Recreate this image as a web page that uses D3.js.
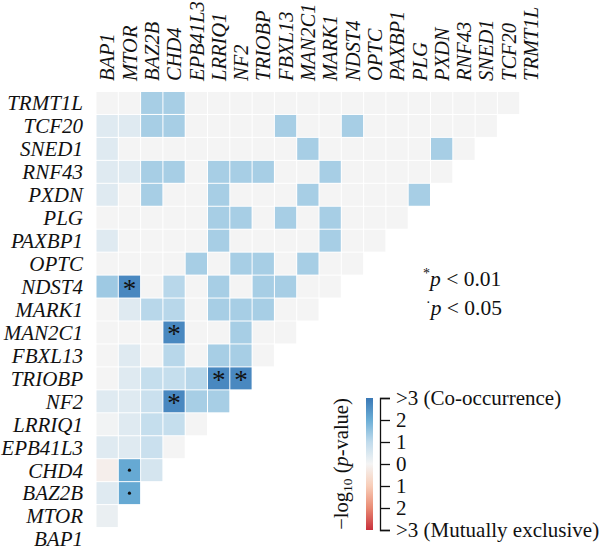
<!DOCTYPE html>
<html>
<head>
<meta charset="utf-8">
<script src="https://cdn.jsdelivr.net/npm/d3@7"></script>
<style>
  body { margin: 0; background: #fff; }
  text { font-family: "Liberation Serif", "Times New Roman", serif; fill: #111; }
</style>
</head>
<body>
<svg></svg>
<script>
// genes in column order (left to right); rows run the other way
const genes = ["BAP1", "MTOR", "BAZ2B", "CHD4", "EPB41L3", "LRRIQ1", "NF2", "TRIOBP",
  "FBXL13", "MAN2C1", "MARK1", "NDST4", "OPTC", "PAXBP1", "PLG", "PXDN",
  "RNF43", "SNED1", "TCF20", "TRMT1L"];

// -log10(p), signed (+ co-occurrence, - mutual exclusivity), row gene vs genes before it
const scores = [
  [],                                                                   // BAP1
  [0.2],                                                                // MTOR
  [0.4, 2.1],                                                           // BAZ2B
  [-0.15, 2.1, 0.6],                                                    // CHD4
  [0.4, 0.4, 0.8, 0],                                                   // EPB41L3
  [0.05, 0.4, 0.9, 0.9, 0],                                             // LRRIQ1
  [0.4, 0.4, 0.8, 2.7, 1.3, 1.3],                                       // NF2
  [0, 0.4, 0.9, 0.9, 1.1, 2.7, 2.7],                                    // TRIOBP
  [0, 0.4, 0, 1.1, 0, 1.3, 1.3, 0],                                     // FBXL13
  [0, 0, 0, 2.7, 0, 0, 1.3, 0, 0],                                      // MAN2C1
  [0, 0.4, 1.1, 1.1, 0, 1.3, 1.3, 1.3, 0, 0],                           // MARK1
  [1.4, 2.7, 0, 1.1, 0, 1.3, 0, 1.3, 1.3, 0, 0],                        // NDST4
  [0, 0, 0, 0, 1.3, 0, 1.3, 1.3, 0, 1.3, 0, 0],                         // OPTC
  [0.4, 0, 0, 0, 0, 1.3, 0, 0, 0, 0, 1.3, 0, 0],                        // PAXBP1
  [0, 0, 0, 0, 0, 1.3, 1.3, 0, 1.3, 0, 1.3, 0, 0, 0],                   // PLG
  [0.4, 0, 1.3, 0, 0, 1.3, 0, 0, 0, 1.3, 0, 0, 0, 0, 1.3],              // PXDN
  [0.4, 0.4, 1.3, 1.3, 0, 1.3, 1.3, 1.3, 0, 0, 1.3, 0, 0, 0, 0, 0],     // RNF43
  [0.4, 0, 0, 0, 0, 0, 0, 0, 0, 1.3, 0, 0, 0, 0, 0, 1.3, 0],            // SNED1
  [0.4, 0.4, 1.3, 1.3, 0, 0, 0, 0, 1.3, 0, 0, 1.3, 0, 0, 0, 0, 0, 0],   // TCF20
  [0, 0, 1.3, 1.3, 0, 0, 0, 0, 0, 0, 0, 0, 0, 0, 0, 0, 0, 0, 0]         // TRMT1L
];

// significance marks: [row gene, column gene, mark]
const marks = [
  ["NDST4", "MTOR", "*"], ["MAN2C1", "CHD4", "*"], ["TRIOBP", "LRRIQ1", "*"],
  ["TRIOBP", "NF2", "*"], ["NF2", "CHD4", "*"], ["CHD4", "MTOR", "."], ["BAZ2B", "MTOR", "."]
];

const legendTicks = [3, 2, 1, 0, -1, -2, -3];
const legendLabels = [">3 (Co-occurrence)", "2", "1", "0", "1", "2", ">3 (Mutually exclusive)"];

const width = 600, height = 553;
const svg = d3.select('svg').attr('width', width).attr('height', height);

const cellW = 22.3, cellH = 22.95;
const x = d3.scaleBand().domain(genes).range([96, 96 + genes.length * cellW]);
const y = d3.scaleBand().domain(genes.slice().reverse()).range([91.5, 91.5 + genes.length * cellH]);

const color = d3.scaleLinear()
  .domain([-3, -2, -1, 0, 1, 2, 3])
  .range(["#c8303c", "#e98b74", "#f8cdb8", "#f4f4f4", "#c0dbec", "#6baed6", "#3a78b6"])
  .clamp(true);

// flatten the lower triangle
const cells = [];
scores.forEach((row, i) => row.forEach((v, j) => cells.push({ r: genes[i], c: genes[j], v })));

svg.append('g').selectAll('rect').data(cells)
  .enter().append('rect')
    .attr('x', d => x(d.c) + 0.5)
    .attr('y', d => y(d.r) + 0.5)
    .attr('width', x.bandwidth() - 1)
    .attr('height', y.bandwidth() - 1)
    .attr('fill', d => color(d.v));

// significance marks
svg.append('g').selectAll('text').data(marks.filter(m => m[2] === '*'))
  .enter().append('text')
    .attr('x', d => x(d[1]) + x.bandwidth() / 2)
    .attr('y', d => y(d[0]) + y.bandwidth() / 2 + 11)
    .attr('text-anchor', 'middle')
    .attr('font-size', 27)
    .text('*');
svg.append('g').selectAll('circle').data(marks.filter(m => m[2] === '.'))
  .enter().append('circle')
    .attr('cx', d => x(d[1]) + x.bandwidth() / 2)
    .attr('cy', d => y(d[0]) + y.bandwidth() / 2)
    .attr('r', 1.6)
    .attr('fill', '#111');

// row labels
svg.append('g').selectAll('text').data(genes)
  .enter().append('text')
    .attr('x', 83)
    .attr('y', d => y(d) + y.bandwidth() / 2)
    .attr('dy', '0.35em')
    .attr('text-anchor', 'end')
    .attr('font-style', 'italic')
    .attr('font-size', 21)
    .text(d => d);

// column labels
svg.append('g').selectAll('text').data(genes)
  .enter().append('text')
    .attr('transform', d => `translate(${x(d) + x.bandwidth() / 2},81) rotate(-90)`)
    .attr('dy', '0.35em')
    .attr('font-style', 'italic')
    .attr('font-size', 20.5)
    .text(d => d);

// p-value notes
const note = svg.append('g').attr('font-size', 21.5);
const n1 = note.append('text').attr('x', 423).attr('y', 286);
n1.append('tspan').attr('font-size', 14).attr('dy', -8).text('*');
n1.append('tspan').attr('font-style', 'italic').attr('dy', 8).text('p');
n1.append('tspan').text(' < 0.01');
const n2 = note.append('text').attr('x', 426).attr('y', 315);
n2.append('tspan').attr('font-size', 14).attr('dy', -8).text('·');
n2.append('tspan').attr('font-style', 'italic').attr('dy', 8).text('p');
n2.append('tspan').text(' < 0.05');

// colour legend
const ly = d3.scaleLinear().domain([3, -3]).range([398, 530]);
const defs = svg.append('defs');
const grad = defs.append('linearGradient').attr('id', 'lg')
  .attr('x1', 0).attr('y1', 0).attr('x2', 0).attr('y2', 1);
d3.range(3, -3.01, -0.25).forEach(v => {
  grad.append('stop')
    .attr('offset', (ly(v) - 398) / 132)
    .attr('stop-color', color(v));
});
svg.append('rect')
  .attr('x', 366).attr('y', 398)
  .attr('width', 7).attr('height', 132)
  .attr('fill', 'url(#lg)');

const axis = d3.axisRight(ly)
  .tickValues(legendTicks)
  .tickFormat((d, i) => legendLabels[i])
  .tickSize(10)
  .tickPadding(6);
const ag = svg.append('g').attr('transform', 'translate(380,0)').call(axis);
ag.selectAll('path, line').attr('stroke', '#111').attr('stroke-width', 1.3);
ag.selectAll('text').attr('font-size', 21).attr('font-family', '"Liberation Serif", serif').attr('fill', '#111');

const title = svg.append('text')
  .attr('transform', 'translate(348,464) rotate(-90)')
  .attr('text-anchor', 'middle')
  .attr('font-size', 20.5);
title.append('tspan').text('−log');
title.append('tspan').attr('font-size', 13.5).attr('dy', 4).text('10');
title.append('tspan').attr('dy', -4).text(' (');
title.append('tspan').attr('font-style', 'italic').text('p');
title.append('tspan').text('-value)');
</script>
</body>
</html>
